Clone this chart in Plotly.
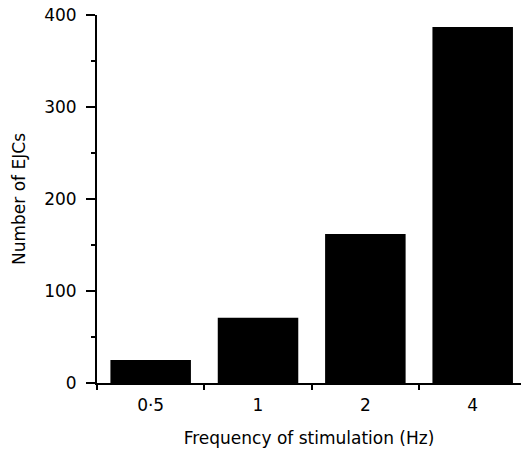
import plotly.graph_objects as go

# Stimulation frequencies (Hz) and EJC counts
frequencies = ["0·5", "1", "2", "4"]
ejc_counts = [25, 71, 162, 387]

y_tick_values = [0, 100, 200, 300, 400]
y_tick_labels = ["0", "100", "200", "300", "400"]

FONT = "DejaVu Sans"

fig = go.Figure(
    go.Bar(
        x=frequencies,
        y=ejc_counts,
        width=0.75,
        marker=dict(color="black", line=dict(width=0)),
    )
)

fig.update_layout(
    width=521,
    height=452,
    margin=dict(l=97, r=0, t=15, b=69),
    plot_bgcolor="white",
    paper_bgcolor="white",
    showlegend=False,
    font=dict(family=FONT, size=17, color="black"),
)

fig.update_xaxes(
    type="category",
    range=[-0.5, 3.45],
    showgrid=False,
    zeroline=False,
    showline=True,
    linecolor="black",
    linewidth=2,
    ticks="outside",
    tickson="boundaries",
    ticklen=5,
    tickwidth=2,
    tickcolor="black",
    ticklabelstandoff=6,
    tickfont=dict(family=FONT, size=17),
    title=dict(text="Frequency of stimulation (Hz)", font=dict(family=FONT, size=17), standoff=18),
    automargin=False,
)

fig.update_yaxes(
    range=[0, 400],
    tickvals=y_tick_values,
    ticktext=y_tick_labels,
    showgrid=False,
    zeroline=False,
    showline=True,
    linecolor="black",
    linewidth=2,
    ticks="outside",
    ticklen=9,
    tickwidth=2,
    tickcolor="black",
    ticklabelstandoff=6,
    tickfont=dict(family=FONT, size=17),
    minor=dict(dtick=50, tick0=0, ticks="outside", ticklen=4, tickwidth=2, tickcolor="black", showgrid=False),
    title=dict(text="Number of EJCs", font=dict(family=FONT, size=17), standoff=14),
    automargin=False,
)

fig.write_html("out.html")
